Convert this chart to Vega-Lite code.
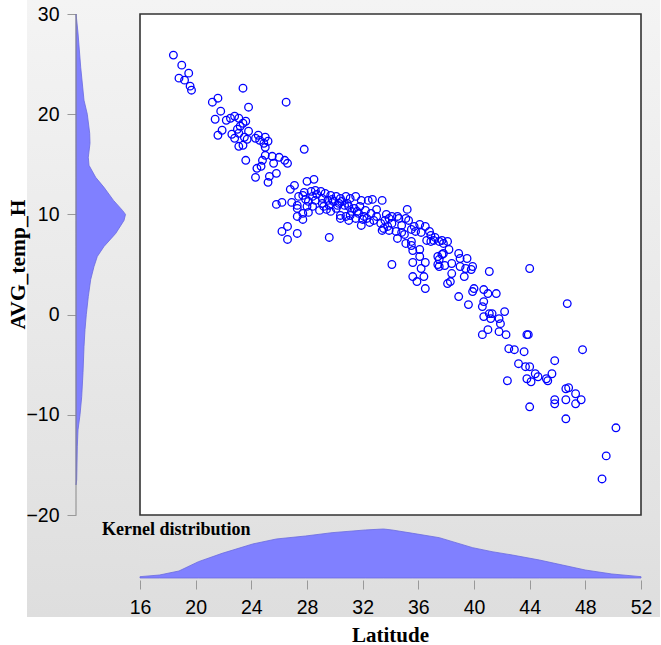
{
"$schema": "https://vega.github.io/schema/vega-lite/v6.json",
"background": "white",
"padding": {"left": 7, "top": 0, "right": 0, "bottom": 0},
"spacing": 0,
"bounds": "flush",
"config": {"view": {"stroke": null}, "axis": {"grid": false}},
"datasets": {
"tempDensity": [
{"temp": 30, "density": 0}, {"temp": 29.4, "density": 0.014}, {"temp": 28.1, "density": 0.04}, {"temp": 24.7, "density": 0.094}, {"temp": 21.4, "density": 0.16}, {"temp": 20.0, "density": 0.226}, {"temp": 18.1, "density": 0.274}, {"temp": 17.1, "density": 0.28}, {"temp": 15.7, "density": 0.246}, {"temp": 14.9, "density": 0.26}, {"temp": 13.7, "density": 0.394}, {"temp": 12.7, "density": 0.56}, {"temp": 11.4, "density": 0.75}, {"temp": 10.4, "density": 0.93}, {"temp": 10.0, "density": 0.99}, {"temp": 9.4, "density": 0.96}, {"temp": 8.1, "density": 0.794}, {"temp": 6.8, "density": 0.56}, {"temp": 5.8, "density": 0.426}, {"temp": 4.8, "density": 0.36}, {"temp": 3.5, "density": 0.294}, {"temp": 1.8, "density": 0.246}, {"temp": 0.0, "density": 0.206}, {"temp": -1.5, "density": 0.18}, {"temp": -3.2, "density": 0.16}, {"temp": -5.8, "density": 0.14}, {"temp": -8.2, "density": 0.114}, {"temp": -10.0, "density": 0.08}, {"temp": -11.5, "density": 0.04}, {"temp": -13.2, "density": 0.026}, {"temp": -16.5, "density": 0.014}, {"temp": -17.0, "density": 0}
],
"latDensity": [
{"lat": 16, "density": 0.027}, {"lat": 17.4, "density": 0.061}, {"lat": 18.8, "density": 0.143}, {"lat": 20.2, "density": 0.333}, {"lat": 21.9, "density": 0.503}, {"lat": 24.1, "density": 0.694}, {"lat": 25.8, "density": 0.796}, {"lat": 27.9, "density": 0.857}, {"lat": 29.8, "density": 0.925}, {"lat": 32.2, "density": 0.98}, {"lat": 33.5, "density": 1.0}, {"lat": 34.1, "density": 0.98}, {"lat": 35.6, "density": 0.912}, {"lat": 37.5, "density": 0.823}, {"lat": 39.9, "density": 0.619}, {"lat": 41.3, "density": 0.537}, {"lat": 42.75, "density": 0.469}, {"lat": 44.7, "density": 0.367}, {"lat": 46.35, "density": 0.265}, {"lat": 48.0, "density": 0.163}, {"lat": 49.9, "density": 0.082}, {"lat": 52, "density": 0.027}
],
"points": [
{"lat":18.4,"temp":25.9},{"lat":19.0,"temp":24.9},{"lat":19.5,"temp":24.1},{"lat":18.8,"temp":23.6},{"lat":19.2,"temp":23.4},{"lat":19.6,"temp":22.8},{"lat":19.7,"temp":22.4},{"lat":23.4,"temp":22.6},{"lat":21.2,"temp":21.2},{"lat":21.6,"temp":21.6},{"lat":26.5,"temp":21.2},{"lat":21.8,"temp":20.3},{"lat":23.8,"temp":20.7},{"lat":21.4,"temp":19.5},{"lat":22.2,"temp":19.4},{"lat":22.5,"temp":19.6},{"lat":22.8,"temp":19.8},{"lat":23.1,"temp":19.6},{"lat":23.6,"temp":19.3},{"lat":23.4,"temp":19.1},{"lat":21.9,"temp":18.4},{"lat":21.6,"temp":17.9},{"lat":22.6,"temp":18.0},{"lat":23.0,"temp":18.5},{"lat":23.2,"temp":18.8},{"lat":23.1,"temp":18.1},{"lat":22.8,"temp":17.6},{"lat":23.5,"temp":17.7},{"lat":23.8,"temp":18.3},{"lat":23.7,"temp":17.5},{"lat":23.4,"temp":16.9},{"lat":23.1,"temp":16.8},{"lat":24.3,"temp":17.6},{"lat":24.5,"temp":17.9},{"lat":24.6,"temp":17.4},{"lat":25.0,"temp":17.7},{"lat":24.9,"temp":17.1},{"lat":25.2,"temp":17.3},{"lat":25.0,"temp":16.7},{"lat":23.6,"temp":15.4},{"lat":25.0,"temp":15.9},{"lat":25.5,"temp":15.8},{"lat":26.0,"temp":15.7},{"lat":26.4,"temp":15.4},{"lat":26.6,"temp":15.1},{"lat":25.6,"temp":15.1},{"lat":24.8,"temp":15.4},{"lat":24.7,"temp":14.8},{"lat":24.4,"temp":14.6},{"lat":24.3,"temp":13.7},{"lat":25.3,"temp":13.8},{"lat":25.8,"temp":14.1},{"lat":25.2,"temp":13.2},{"lat":27.8,"temp":16.5},{"lat":26.8,"temp":12.5},{"lat":27.1,"temp":12.9},{"lat":28.0,"temp":13.3},{"lat":28.5,"temp":13.5},{"lat":25.8,"temp":11.0},{"lat":26.2,"temp":11.2},{"lat":26.9,"temp":11.2},{"lat":27.3,"temp":10.6},{"lat":27.7,"temp":10.1},{"lat":28.1,"temp":10.2},{"lat":27.3,"temp":9.8},{"lat":27.7,"temp":9.5},{"lat":26.6,"temp":8.8},{"lat":26.2,"temp":8.3},{"lat":26.6,"temp":7.5},{"lat":27.3,"temp":8.1},{"lat":29.6,"temp":7.7},
{"lat":27.7,"temp":11.9},{"lat":27.9,"temp":11.5},{"lat":28.3,"temp":12.3},{"lat":28.6,"temp":12.4},{"lat":29.0,"temp":12.3},{"lat":29.3,"temp":12.1},{"lat":29.7,"temp":11.9},{"lat":30.1,"temp":11.8},{"lat":30.4,"temp":11.6},{"lat":30.8,"temp":11.8},{"lat":31.1,"temp":11.6},{"lat":31.5,"temp":11.8},{"lat":28.1,"temp":11.3},{"lat":28.6,"temp":11.4},{"lat":29.1,"temp":11.6},{"lat":29.5,"temp":11.4},{"lat":29.9,"temp":11.3},{"lat":30.3,"temp":11.1},{"lat":30.7,"temp":10.9},{"lat":31.0,"temp":10.8},{"lat":31.4,"temp":10.6},{"lat":31.6,"temp":10.3},{"lat":29.7,"temp":10.3},{"lat":30.1,"temp":10.6},{"lat":30.4,"temp":9.9},{"lat":30.8,"temp":9.8},{"lat":31.1,"temp":9.9},{"lat":31.5,"temp":9.6},{"lat":29.2,"temp":10.8},{"lat":27.4,"temp":11.8},{"lat":27.8,"temp":12.2},{"lat":28.0,"temp":10.8},{"lat":29.1,"temp":11.1},{"lat":29.6,"temp":10.9},{"lat":30.4,"temp":9.6},{"lat":31.0,"temp":9.4},{"lat":31.9,"temp":8.9},{"lat":32.0,"temp":9.5},{"lat":32.3,"temp":9.6},{"lat":32.8,"temp":9.4},{"lat":33.3,"temp":9.1},{"lat":33.5,"temp":8.6},{"lat":33.9,"temp":8.4},{"lat":34.4,"temp":8.3},{"lat":34.5,"temp":7.6},{"lat":34.8,"temp":8.2},{"lat":35.1,"temp":7.1},{"lat":35.5,"temp":7.3},{"lat":35.8,"temp":8.3},{"lat":36.2,"temp":8.2},{"lat":31.9,"temp":11.4},{"lat":32.4,"temp":11.4},{"lat":32.7,"temp":11.5},{"lat":33.4,"temp":11.4},{"lat":33.0,"temp":10.5},{"lat":33.7,"temp":10.0},{"lat":34.1,"temp":9.8},{"lat":34.6,"temp":9.6},{"lat":35.2,"temp":10.5},{"lat":35.1,"temp":9.6},{"lat":35.3,"temp":9.4},{"lat":36.1,"temp":9.0},{"lat":36.5,"temp":8.8},{"lat":36.8,"temp":8.3},{"lat":37.2,"temp":7.7},{"lat":37.7,"temp":7.4},{"lat":38.1,"temp":7.3},{"lat":31.7,"temp":10.1},{"lat":32.1,"temp":9.8},{"lat":32.5,"temp":9.2},{"lat":33.4,"temp":8.4},{"lat":33.9,"temp":9.6},{"lat":34.5,"temp":9.8},{"lat":33.8,"temp":8.8},{"lat":35.0,"temp":8.0},{"lat":35.5,"temp":8.5},{"lat":35.5,"temp":6.9},{"lat":36.1,"temp":6.5},{"lat":36.1,"temp":5.8},{"lat":35.6,"temp":5.2},{"lat":36.5,"temp":5.2},{"lat":34.1,"temp":5.0},{"lat":37.4,"temp":5.8},{"lat":37.4,"temp":5.0},{"lat":36.2,"temp":4.6},{"lat":36.9,"temp":7.9},{"lat":37.1,"temp":7.4},
{"lat":35.6,"temp":6.4},{"lat":35.6,"temp":3.8},{"lat":36.4,"temp":3.8},{"lat":35.9,"temp":3.3},{"lat":36.5,"temp":2.6},{"lat":37.8,"temp":6.1},{"lat":38.1,"temp":3.1},
{"lat":28.4,"temp":11.8},{"lat":28.7,"temp":12.0},{"lat":29.8,"temp":11.5},{"lat":30.5,"temp":11.3},{"lat":30.9,"temp":11.1},{"lat":30.2,"temp":10.9},{"lat":29.4,"temp":10.5},{"lat":31.2,"temp":10.3},{"lat":31.8,"temp":10.8},{"lat":32.2,"temp":10.4},{"lat":32.6,"temp":10.1},{"lat":33.0,"temp":9.8},{"lat":33.6,"temp":9.4},{"lat":34.1,"temp":9.1},{"lat":34.8,"temp":8.9},{"lat":35.7,"temp":8.8},{"lat":27.3,"temp":10.9},{"lat":28.9,"temp":10.4},{"lat":28.4,"temp":10.8},
{"lat":36.6,"temp":7.4},{"lat":37.5,"temp":7.3},{"lat":37.8,"temp":7.1},{"lat":38.2,"temp":6.5},{"lat":37.7,"temp":6.0},{"lat":37.5,"temp":5.5},{"lat":37.5,"temp":4.8},{"lat":37.9,"temp":4.9},{"lat":38.4,"temp":5.1},{"lat":38.9,"temp":6.1},{"lat":39.0,"temp":5.6},{"lat":39.5,"temp":5.6},{"lat":39.4,"temp":4.6},{"lat":39.8,"temp":4.5},{"lat":39.9,"temp":4.8},{"lat":38.4,"temp":4.1},{"lat":39.3,"temp":3.8},{"lat":38.3,"temp":3.3},{"lat":41.1,"temp":4.3},{"lat":40.0,"temp":2.6},{"lat":39.9,"temp":2.3},{"lat":40.7,"temp":2.5},{"lat":41.0,"temp":2.1},{"lat":41.6,"temp":2.1},{"lat":38.9,"temp":1.8},{"lat":39.6,"temp":1.0},{"lat":40.7,"temp":1.3},{"lat":40.6,"temp":0.8},{"lat":36.9,"temp":7.3},{"lat":39.0,"temp":4.8},
{"lat":40.7,"temp":-0.2},{"lat":41.1,"temp":0.1},{"lat":41.3,"temp":0.1},{"lat":41.2,"temp":-0.4},{"lat":41.8,"temp":-0.4},{"lat":41.9,"temp":-0.9},{"lat":41.8,"temp":-1.7},{"lat":40.6,"temp":-2.0},{"lat":41.0,"temp":-1.5},{"lat":42.2,"temp":0.3},{"lat":42.3,"temp":-2.0},
{"lat":44.0,"temp":4.6},
{"lat":42.5,"temp":-3.4},{"lat":42.9,"temp":-3.5},{"lat":43.6,"temp":-3.7},{"lat":43.2,"temp":-4.9},{"lat":43.7,"temp":-5.2},{"lat":44.0,"temp":-5.2},{"lat":43.8,"temp":-6.4},{"lat":44.1,"temp":-6.7},{"lat":44.4,"temp":-5.9},{"lat":44.6,"temp":-6.2},{"lat":45.2,"temp":-6.4},{"lat":45.3,"temp":-6.6},{"lat":45.6,"temp":-5.9},{"lat":45.8,"temp":-4.6},{"lat":42.4,"temp":-6.6},{"lat":44.0,"temp":-9.2},
{"lat":43.8,"temp":-2.0},{"lat":43.9,"temp":-2.0},
{"lat":46.7,"temp":1.1},{"lat":47.8,"temp":-3.5},
{"lat":46.6,"temp":-7.4},{"lat":46.8,"temp":-7.3},{"lat":47.3,"temp":-7.9},{"lat":45.8,"temp":-8.5},{"lat":45.8,"temp":-8.9},{"lat":46.6,"temp":-8.5},{"lat":47.3,"temp":-8.9},{"lat":47.7,"temp":-8.5},{"lat":46.6,"temp":-10.4},
{"lat":50.2,"temp":-11.3},{"lat":49.5,"temp":-14.1},{"lat":49.2,"temp":-16.4}
]
},
"hconcat": [
{
"width": 112,
"height": 617,
"view": {"fill": {"gradient": "linear", "x1": 0, "y1": 0, "x2": 0, "y2": 1, "stops": [{"offset": 0, "color": "#f4f4f4"}, {"offset": 1, "color": "#dedede"}]}},
"layer": [
{
"data": {"name": "tempDensity"},
"mark": {"type": "area", "orient": "horizontal", "fill": "#8080ff", "stroke": "#6a6ae0", "strokeWidth": 0.8},
"encoding": {
"y": {"field": "temp", "type": "quantitative", "scale": {"domain": [-30.18, 31.4], "nice": false, "zero": false},
"axis": {"orient": "left", "offset": -49, "values": [-20, -10, 0, 10, 20, 30], "domain": false, "ticks": true, "tickColor": "#999999", "tickSize": 9, "tickWidth": 1, "labelFont": "Liberation Sans", "labelFontSize": 19.5, "labelColor": "#000000", "labelPadding": 8, "labelFlush": false, "labelOverlap": false, "labelBound": false,
"title": "AVG_temp_H", "titleFont": "Liberation Serif", "titleFontWeight": "bold", "titleFontSize": 21.5, "titleColor": "#000000", "titleX": -52, "titleY": 264, "titleBaseline": "alphabetic", "titleAngle": 270}},
"x": {"field": "density", "type": "quantitative", "scale": {"domain": [-0.98, 1.26], "nice": false, "zero": false}, "axis": null},
"x2": {"datum": 0}
}
},
{
"data": {"values": [{}]},
"mark": {"type": "rule", "color": "#888888", "strokeWidth": 1},
"encoding": {
"x": {"datum": 0, "type": "quantitative"},
"y": {"datum": -20, "type": "quantitative"},
"y2": {"datum": 30}
}
}
]
},
{
"spacing": 0,
"bounds": "flush",
"vconcat": [
{
"width": 521,
"height": 516,
"view": {"fill": {"gradient": "linear", "x1": 0, "y1": 0, "x2": 0, "y2": 1, "stops": [{"offset": 0, "color": "#f4f4f4"}, {"offset": 1, "color": "#e2e2e2"}]}},
"layer": [
{
"data": {"values": [{}]},
"mark": {"type": "rect", "fill": "#ffffff", "stroke": "#333333", "strokeWidth": 1.6},
"encoding": {
"x": {"datum": 16, "type": "quantitative", "scale": {"domain": [15.928, 53.365], "nice": false, "zero": false}, "axis": null},
"x2": {"datum": 52},
"y": {"datum": -20, "type": "quantitative", "scale": {"domain": [-20.1, 31.4], "nice": false, "zero": false}, "axis": null},
"y2": {"datum": 30}
}
},
{
"data": {"name": "points"},
"mark": {"type": "point", "shape": "circle", "filled": false, "stroke": "#0000ff", "strokeWidth": 1.3, "size": 58, "opacity": 1},
"encoding": {
"x": {"field": "lat", "type": "quantitative", "scale": {"domain": [15.928, 53.365], "nice": false, "zero": false}, "axis": null},
"y": {"field": "temp", "type": "quantitative", "scale": {"domain": [-20.1, 31.4], "nice": false, "zero": false}, "axis": null}
}
}
]
},
{
"width": 521,
"height": 101,
"view": {"fill": {"gradient": "linear", "x1": 0, "y1": 0, "x2": 0, "y2": 1, "stops": [{"offset": 0, "color": "#e2e2e2"}, {"offset": 1, "color": "#dedede"}]}},
"title": {"text": "Kernel distribution", "anchor": "start", "frame": "group", "dx": -37, "dy": 37, "offset": 0, "baseline": "alphabetic", "font": "Liberation Serif", "fontWeight": "bold", "fontSize": 18, "color": "#000000"},
"data": {"name": "latDensity"},
"mark": {"type": "area", "fill": "#8080ff", "stroke": "#6a6ae0", "strokeWidth": 0.8},
"encoding": {
"x": {"field": "lat", "type": "quantitative", "scale": {"domain": [15.928, 53.365], "nice": false, "zero": false},
"axis": {"orient": "bottom", "offset": -37, "values": [16, 20, 24, 28, 32, 36, 40, 44, 48, 52], "domain": false, "tickColor": "#999999", "tickSize": 9, "tickWidth": 1, "labelFont": "Liberation Sans", "labelFontSize": 19.5, "labelColor": "#000000", "labelPadding": 9.5, "labelFlush": false, "labelOverlap": false, "labelBound": false,
"title": "Latitude", "titleFont": "Liberation Serif", "titleFontWeight": "bold", "titleFontSize": 21, "titleColor": "#000000", "titleX": 251, "titleY": 61, "titleBaseline": "alphabetic"}},
"y": {"field": "density", "type": "quantitative", "scale": {"domain": [-0.796, 1.265], "nice": false, "zero": false}, "axis": null},
"y2": {"datum": 0}
}
}
]
}
]
}
